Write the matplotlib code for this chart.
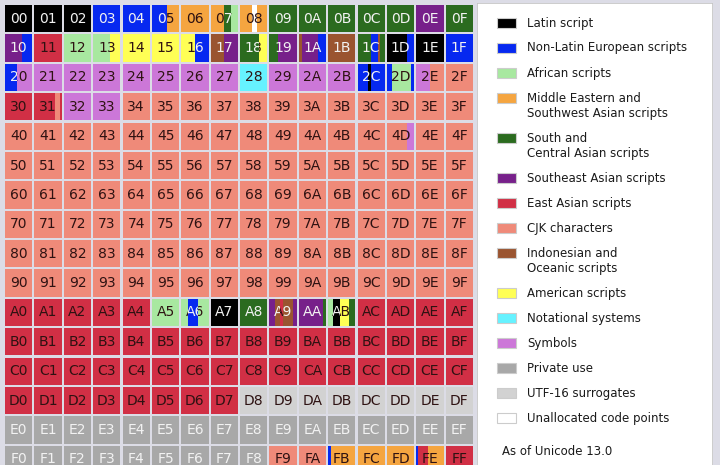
"""
plot.py  -  roadmap of the Unicode Basic Multilingual Plane (as of 13.0).
Saves out.png
"""
import matplotlib
matplotlib.use("Agg")
import matplotlib.pyplot as plt
from matplotlib.patches import Rectangle
from matplotlib.transforms import Bbox, TransformedBbox

# category code -> colour
COLORS = {
    "L": "#000000", "N": "#0628f0", "F": "#a8e8a0", "M": "#f5a540",
    "S": "#2b6b1f", "T": "#77208a", "E": "#d12f45", "C": "#ef8a79",
    "I": "#9a5430", "A": "#ffff55", "O": "#66f2ff", "Y": "#cc77d8",
    "P": "#a8a8a8", "U": "#d2d2d2", "X": "#ffffff",
}
WHITE_TEXT = {"L", "N", "S", "T", "I", "P"}

LEGEND_CODES = ["L", "N", "F", "M", "S", "T", "E", "C", "I", "A", "O", "Y", "P", "U", "X"]
LEGEND_LABELS = [
    "Latin script", "Non-Latin European scripts", "African scripts",
    "Middle Eastern and\nSouthwest Asian scripts", "South and\nCentral Asian scripts",
    "Southeast Asian scripts", "East Asian scripts", "CJK characters",
    "Indonesian and\nOceanic scripts", "American scripts", "Notational systems",
    "Symbols", "Private use", "UTF-16 surrogates", "Unallocated code points",
]
NOTE = "As of Unicode 13.0"

# one entry per 256-code-point block: "cat" or "cat,cat@start,..." (start = hex offset in block)
ROWS = [
    ["L", "L", "L", "N", "N", "N,M@90", "M", "M,S@80,F@C0",
     "M,X@70,M@A0", "S", "S", "S", "S", "S", "T", "S"],
    ["T,N@A0", "E", "F", "F,A@A0", "A", "A", "A,N@80", "I,T@80",
     "S,A@B0", "S,T@50", "I,T@20,N@B0", "I", "S,N@80,I@C0,S@D0", "L,N@C0", "L", "N"],
    ["N,Y@70", "Y", "Y", "Y", "Y", "Y", "Y", "Y",
     "O", "Y", "Y", "Y", "N,L@60,N@80", "N,F@30,N@E0", "Y,C@80", "C"],
    ["E", "E,C@C0,E@F0", "Y", "Y"] + ["C"] * 12,
    ["C"] * 13 + ["C,Y@C0", "C", "C"],
    ["C"] * 16,
    ["C"] * 16,
    ["C"] * 16,
    ["C"] * 16,
    ["C"] * 16,
    ["E", "E", "E", "E", "E", "F", "F,N@40,F@A0", "L",
     "S", "T,I@30,E@60,I@80,T@E0", "T,S@E0", "F,L@30,A@70,S@C0", "E", "E", "E", "E"],
    ["E"] * 16,
    ["E"] * 16,
    ["E"] * 8 + ["U"] * 8,
    ["P"] * 16,
    ["P"] * 9 + ["C", "C", "N,M@18", "M", "M", "N,E@10,M@70", "E"],
]

GAP = 0.07
DARK, LIGHT = "#2e1212", "#f2f2f2"


def parse(spec):
    segs = []
    for p in spec.split(","):
        if "@" in p:
            cat, st = p.split("@"); segs.append((cat, int(st, 16)))
        else:
            segs.append((p, 0))
    return [(cat, st, segs[i + 1][1] if i + 1 < len(segs) else 256)
            for i, (cat, st) in enumerate(segs)]


def draw_grid(ax):
    for r, row in enumerate(ROWS):
        for c, spec in enumerate(row):
            label = f"{r:X}{c:X}"
            x0, w = c + GAP / 2, 1 - GAP
            y0, y1 = r + GAP / 2, r + 1 - GAP / 2
            runs = []   # merged runs of equal text colour: [colour, x_start, x_end]
            for cat, st, en in parse(spec):
                xa, xb = x0 + w * st / 256, x0 + w * en / 256
                ax.add_patch(Rectangle((xa, y0), xb - xa, y1 - y0,
                                       facecolor=COLORS[cat], edgecolor="none"))
                tc = LIGHT if cat in WHITE_TEXT else DARK
                if runs and runs[-1][0] == tc:
                    runs[-1][2] = xb
                else:
                    runs.append([tc, xa, xb])
            for tc, xa, xb in runs:
                t = ax.text(c + 0.5, r + 0.5, label, ha="center", va="center",
                            fontsize=10, color=tc)
                if len(runs) > 1:
                    t.set_clip_on(True)
                    t.set_clip_box(TransformedBbox(Bbox.from_extents(xa, y0, xb, y1), ax.transData))


def draw_legend(ax):
    ax.add_patch(Rectangle((0, 0), 236, 470, facecolor="white", edgecolor="#c4c4c4", lw=1.2))
    y = 20
    for code, lab in zip(LEGEND_CODES, LEGEND_LABELS):
        ax.add_patch(Rectangle((20, y - 5), 19, 10, facecolor=COLORS[code],
                               edgecolor="#cccccc", lw=0.8))
        for k, line in enumerate(lab.split("\n")):
            ax.text(50, y + 15 * k, line, ha="left", va="center", fontsize=8.5, color="#1a1a1a")
        y += 25 + 15 * (lab.count("\n"))
    ax.text(25, 448, NOTE, ha="left", va="center", fontsize=8.5, color="#1a1a1a")


def main():
    fig = plt.figure(figsize=(7.2, 4.65), dpi=100, facecolor="#dcdce6")
    ax = fig.add_axes([4 / 720, (465 - 474) / 465, 470 / 720, 470 / 465])
    ax.set_xlim(0, 16); ax.set_ylim(16, 0); ax.axis("off")
    draw_grid(ax)

    lg = fig.add_axes([477 / 720, 0, 236 / 720, 462 / 465])
    lg.set_xlim(0, 236); lg.set_ylim(462, 0); lg.axis("off")
    draw_legend(lg)

    fig.savefig("out.png", dpi=100, facecolor=fig.get_facecolor())
    plt.close(fig)


if __name__ == "__main__":
    main()
